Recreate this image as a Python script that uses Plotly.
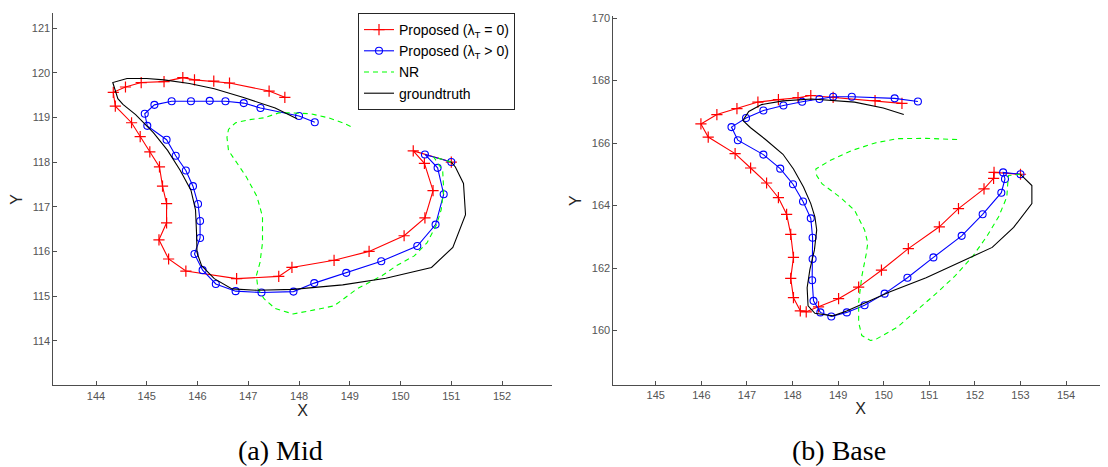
import plotly.graph_objects as go

# ---------------- (a) Mid ----------------
mid_red_x = [151.0, 150.25, 150.47, 150.64, 150.48, 150.07, 149.38, 148.69, 147.86, 147.60, 146.77,
             145.77, 145.43, 145.24, 145.39, 145.39, 145.31, 145.25, 145.06, 144.87, 144.70, 144.38,
             144.34, 144.58, 144.89, 145.34, 145.71, 145.94, 146.32, 146.63, 147.41, 147.72]
mid_red_y = [118.0, 118.25, 117.97, 117.36, 116.75, 116.35, 116.00, 115.80, 115.64, 115.44, 115.39,
             115.56, 115.83, 116.26, 116.64, 117.07, 117.46, 117.89, 118.23, 118.57, 118.88, 119.25,
             119.56, 119.68, 119.78, 119.80, 119.89, 119.84, 119.81, 119.77, 119.59, 119.45]

mid_blue_x = [151.0, 150.48, 150.73, 150.85, 150.69, 150.33, 149.62, 148.93, 148.30, 147.89, 147.26,
              146.75, 146.36, 146.10, 145.94, 146.05, 146.05, 146.01, 145.91, 145.77, 145.57, 145.39,
              145.01, 144.96, 145.15, 145.49, 145.87, 146.24, 146.55, 146.91, 147.24, 148.00, 148.31]
mid_blue_y = [118.0, 118.17, 117.87, 117.28, 116.60, 116.12, 115.78, 115.52, 115.29, 115.10, 115.08,
              115.11, 115.27, 115.58, 115.94, 116.30, 116.68, 117.06, 117.46, 117.81, 118.14, 118.50,
              118.81, 119.08, 119.28, 119.36, 119.36, 119.37, 119.36, 119.32, 119.21, 119.03, 118.89]

mid_nr_x = [151.0, 150.65, 150.83, 150.85, 150.80, 150.71, 150.52, 150.27, 149.92, 149.64, 149.14,
            148.69, 148.30, 147.88, 147.53, 147.31, 147.19, 147.16, 147.23, 147.28, 147.28, 147.17,
            146.96, 146.75, 146.61, 146.58, 146.61, 146.75, 147.03, 147.31, 147.60, 147.88, 148.23,
            148.58, 148.86, 149.07]
mid_nr_y = [118.0, 118.12, 117.81, 117.37, 116.93, 116.60, 116.19, 115.90, 115.68, 115.46, 115.16,
            114.78, 114.69, 114.60, 114.72, 114.94, 115.16, 115.46, 115.75, 116.19, 116.78, 117.23,
            117.67, 118.03, 118.26, 118.55, 118.73, 118.88, 118.95, 118.99, 119.10, 119.10, 119.08,
            118.99, 118.88, 118.77]

mid_gt_x = [151.0, 151.08, 151.24, 151.28, 151.03, 150.61, 149.71, 148.86, 147.88, 147.17, 146.68,
            146.33, 146.08, 145.99, 145.98, 145.96, 145.87, 145.66, 145.41, 145.13, 144.78, 144.53,
            144.43, 144.33, 144.61, 145.00, 145.34, 145.84, 146.33, 146.89, 147.53, 147.74, 147.96]
mid_gt_y = [118.0, 117.89, 117.52, 116.82, 116.09, 115.64, 115.40, 115.25, 115.15, 115.13, 115.16,
            115.39, 115.68, 115.97, 116.42, 116.93, 117.37, 117.81, 118.26, 118.66, 119.06, 119.29,
            119.42, 119.78, 119.87, 119.87, 119.84, 119.76, 119.64, 119.45, 119.21, 119.10, 118.97]

# ---------------- (b) Base ----------------
base_red_x = [153.0, 152.42, 152.41, 152.20, 151.64, 151.22, 150.54, 149.95, 149.45, 149.01, 148.57,
              148.30, 148.17, 148.02, 147.96, 148.02, 147.96, 147.87, 147.69, 147.43, 147.08, 146.74,
              146.15, 145.99, 146.34, 146.78, 147.24, 147.69, 148.12, 148.40, 148.89, 149.81, 150.40]
base_red_y = [165.0, 165.06, 164.87, 164.53, 163.90, 163.32, 162.62, 161.93, 161.39, 161.02, 160.76,
              160.60, 160.63, 161.05, 161.67, 162.34, 163.08, 163.72, 164.25, 164.72, 165.20, 165.66,
              166.19, 166.61, 166.91, 167.10, 167.31, 167.39, 167.45, 167.52, 167.46, 167.36, 167.27]

base_blue_x = [153.0, 152.62, 152.66, 152.58, 152.17, 151.71, 151.09, 150.52, 150.02, 149.58, 149.19,
               148.85, 148.61, 148.46, 148.43, 148.44, 148.44, 148.40, 148.23, 148.01, 147.73, 147.36,
               146.80, 146.66, 146.98, 147.36, 147.80, 148.21, 148.59, 148.89, 149.30, 150.24, 150.75]
base_blue_y = [165.0, 165.06, 164.85, 164.41, 163.72, 163.03, 162.34, 161.69, 161.18, 160.81, 160.58,
               160.45, 160.58, 160.95, 161.61, 162.29, 162.97, 163.59, 164.13, 164.68, 165.18, 165.63,
               166.09, 166.51, 166.80, 167.04, 167.20, 167.32, 167.41, 167.48, 167.48, 167.43, 167.33]

base_nr_x = [153.0, 152.74, 152.72, 152.70, 152.52, 152.26, 151.95, 151.56, 151.17, 150.77, 150.30,
             149.83, 149.71, 149.52, 149.45, 149.45, 149.52, 149.62, 149.65, 149.58, 149.36, 149.04,
             148.65, 148.53, 148.51, 148.81, 149.28, 149.83, 150.30, 150.93, 151.64]
base_nr_y = [165.0, 164.96, 164.69, 164.27, 163.64, 163.01, 162.37, 161.74, 161.21, 160.69, 160.11,
             159.72, 159.68, 159.84, 160.26, 160.90, 161.74, 162.48, 162.80, 163.22, 163.85, 164.27,
             164.69, 164.96, 165.17, 165.43, 165.75, 166.01, 166.14, 166.15, 166.11]

base_gt_x = [153.0, 153.25, 153.25, 152.85, 152.38, 151.71, 150.93, 150.14, 149.52, 149.20, 148.89,
             148.49, 148.34, 148.32, 148.38, 148.48, 148.53, 148.49, 148.40, 148.24, 148.02, 147.79,
             147.40, 147.08, 146.91, 147.04, 147.32, 147.79, 148.42, 148.89, 149.36, 149.99, 150.44]
base_gt_y = [165.0, 164.64, 164.06, 163.30, 162.66, 162.22, 161.69, 161.24, 160.84, 160.63, 160.47,
             160.55, 160.79, 161.37, 161.95, 162.58, 163.22, 163.64, 164.06, 164.59, 165.17, 165.64,
             166.12, 166.49, 166.72, 167.01, 167.23, 167.35, 167.41, 167.37, 167.31, 167.12, 166.91]

series_names = ["Proposed (λ<sub>T</sub> = 0)", "Proposed (λ<sub>T</sub> > 0)", "NR", "groundtruth"]
mid_tick_x = [144, 145, 146, 147, 148, 149, 150, 151, 152]
mid_tick_y = [114, 115, 116, 117, 118, 119, 120, 121]
base_tick_x = [145, 146, 147, 148, 149, 150, 151, 152, 153, 154]
base_tick_y = [160, 162, 164, 166, 168, 170]
captions = ["(a) Mid", "(b) Base"]

fig = go.Figure()

def add_set(sets, xa, ya, show):
    (rx, ry), (bx, by), (nx, ny), (gx, gy) = sets
    fig.add_trace(go.Scatter(x=rx, y=ry, mode="lines+markers", name=series_names[0],
                             line=dict(color="#ff0000", width=1.1),
                             marker=dict(symbol="cross-thin-open", size=8, color="#ff0000",
                                         line=dict(color="#ff0000", width=1.2)),
                             xaxis=xa, yaxis=ya, showlegend=show))
    fig.add_trace(go.Scatter(x=bx, y=by, mode="lines+markers", name=series_names[1],
                             line=dict(color="#0000ff", width=1.1),
                             marker=dict(symbol="circle-open", size=7, color="#0000ff",
                                         line=dict(color="#0000ff", width=1.1)),
                             xaxis=xa, yaxis=ya, showlegend=show))
    fig.add_trace(go.Scatter(x=nx, y=ny, mode="lines", name=series_names[2],
                             line=dict(color="#00ff00", width=1.1, dash="5px,4px"),
                             xaxis=xa, yaxis=ya, showlegend=show))
    fig.add_trace(go.Scatter(x=gx, y=gy, mode="lines", name=series_names[3],
                             line=dict(color="#000000", width=1.1),
                             xaxis=xa, yaxis=ya, showlegend=show))

add_set([(mid_red_x, mid_red_y), (mid_blue_x, mid_blue_y), (mid_nr_x, mid_nr_y), (mid_gt_x, mid_gt_y)],
        "x", "y", True)
add_set([(base_red_x, base_red_y), (base_blue_x, base_blue_y), (base_nr_x, base_nr_y), (base_gt_x, base_gt_y)],
        "x2", "y2", False)

# The page body has an 8 px default margin, so the figure is drawn 8 px in from the
# window's top-left corner; positions below are window pixels minus that offset.
OFF = 8
W, H = 1108 - OFF, 467 - OFF

def px_x(p):
    return (p - OFF) / W

def px_y(p):
    return 1 - (p - OFF) / H

tickfont = dict(family="Liberation Sans, Arial, sans-serif", size=11, color="#555555")
titlefont = dict(family="Liberation Sans, Arial, sans-serif", size=16, color="#262626")
axcommon = dict(showline=True, linecolor="#4d4d4d", linewidth=1, mirror=False, ticks="inside",
                ticklen=4, tickcolor="#4d4d4d", showgrid=False, zeroline=False, tickfont=tickfont,
                ticklabeloverflow="allow")
capfont = dict(family="Liberation Serif, Times New Roman, serif", size=28, color="#000000")

fig.update_layout(
    width=W, height=H, margin=dict(l=0, r=0, t=0, b=0),
    paper_bgcolor="white", plot_bgcolor="white",
    xaxis=dict(domain=[px_x(53.4), px_x(551.8)], range=[143.16, 152.98], tickvals=mid_tick_x,
               title=dict(text="X", font=titlefont, standoff=2), anchor="y", **axcommon),
    yaxis=dict(domain=[px_y(384.5), px_y(8.3)], range=[113.0, 121.33], tickvals=mid_tick_y,
               title=dict(text="Y", font=titlefont, standoff=6), anchor="x", **axcommon),
    xaxis2=dict(domain=[px_x(613.4), 1.0], range=[144.07, 154.92], tickvals=base_tick_x,
                title=dict(text="X", font=titlefont, standoff=2), anchor="y2", **axcommon),
    yaxis2=dict(domain=[px_y(384), px_y(11.5)], range=[158.26, 170.05], tickvals=base_tick_y,
                title=dict(text="Y", font=titlefont, standoff=6), anchor="x2", **axcommon),
    legend=dict(x=px_x(358), y=1.0, xanchor="left", yanchor="top",
                bgcolor="white", bordercolor="#262626", borderwidth=1,
                font=dict(family="Liberation Sans, Arial, sans-serif", size=14, color="#000000"),
                tracegroupgap=0, itemwidth=30),
    annotations=[
        dict(text=captions[0], x=px_x(280), y=0, xref="paper", yref="paper",
             showarrow=False, xanchor="center", yanchor="bottom", borderpad=0, font=capfont),
        dict(text=captions[1], x=px_x(839), y=0, xref="paper", yref="paper",
             showarrow=False, xanchor="center", yanchor="bottom", borderpad=0, font=capfont),
    ],
)

fig.write_html("out.html")
